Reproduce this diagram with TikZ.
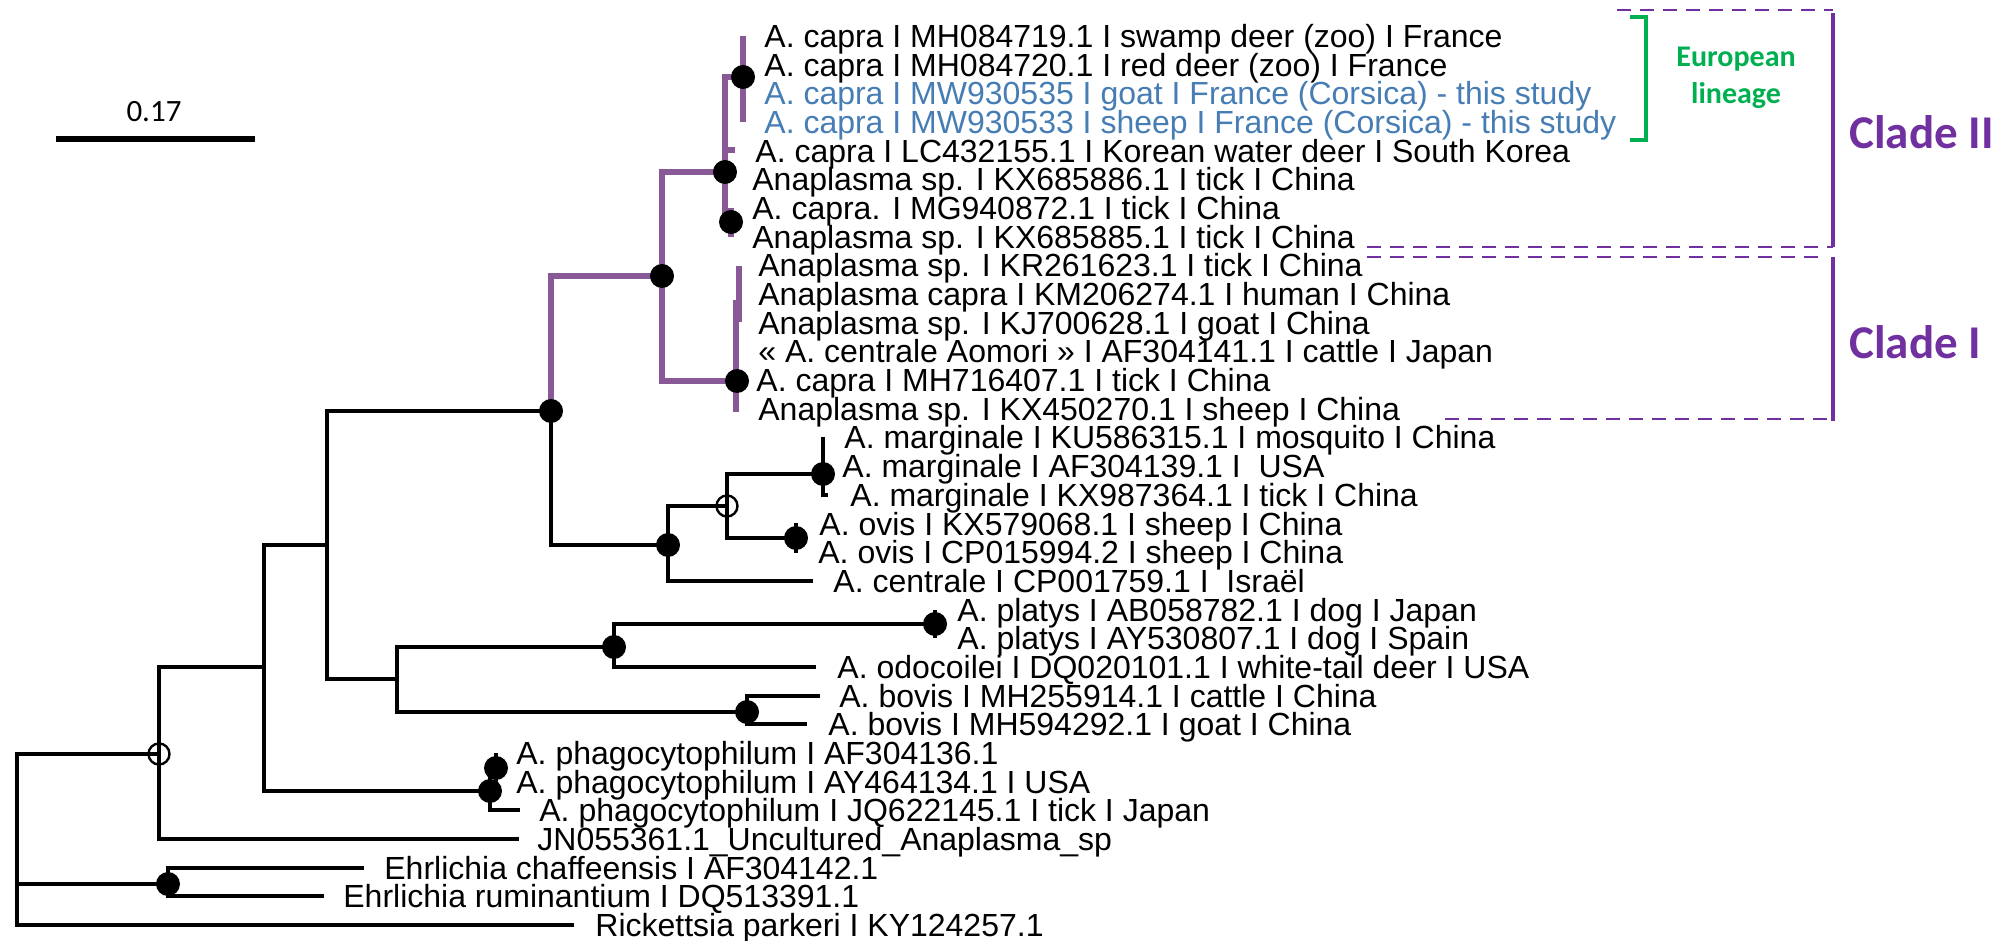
\documentclass[tikz,border=0pt]{standalone}
\usepackage{fontspec}
\setmainfont{Liberation Sans}
\newfontfamily\calib{Carlito}
\definecolor{brpurple}{RGB}{137,88,150}
\definecolor{cladepurple}{RGB}{112,48,160}
\definecolor{eurogreen}{RGB}{0,176,80}
\definecolor{studyblue}{RGB}{70,125,180}
\begin{document}
\begin{tikzpicture}[x=0.5pt,y=-0.5pt,
  br/.style={draw=black, line width=1.7pt},
  pbr/.style={draw=brpurple, line width=2.6pt},
  dot/.style={circle, fill=black, inner sep=0pt, minimum size=12pt},
  odot/.style={circle, draw=black, line width=1.2pt, inner sep=0pt, minimum size=10.5pt},
  lab/.style={anchor=base west, inner sep=0pt, yshift=-5.75pt, font=\fontsize{16}{16}\selectfont},
  blab/.style={lab, text=studyblue},
  cladebar/.style={draw=cladepurple, line width=2.25pt},
  cladedash/.style={draw=cladepurple, line width=1.4pt, dash pattern=on 7pt off 4.5pt},
  cladetxt/.style={anchor=west, inner sep=0pt, text=cladepurple, font=\calib\bfseries\fontsize{23.5}{24}\selectfont},
]
\useasboundingbox (0,0) rectangle (2010,941);

% ---------- internal nodes ----------
\coordinate (root) at (17,840);
\coordinate (nA) at (159,754);
\coordinate (nEh) at (168,884);
\coordinate (nB) at (264,667);
\coordinate (nC) at (327,545);
\coordinate (nP1) at (490,791);
\coordinate (nP2) at (496,768);
\coordinate (nD) at (551,411);
\coordinate (nE) at (397,679);
\coordinate (nM) at (614,647);
\coordinate (nQ) at (935,624);
\coordinate (nR) at (747,712);
\coordinate (nF) at (662,276);
\coordinate (nG) at (668,545);
\coordinate (nH) at (727,506);
\coordinate (nS) at (823,474);
\coordinate (nT) at (796,538);
\coordinate (nK) at (725,172);
\coordinate (nJ) at (743,77);
\coordinate (nL) at (731,222);
\coordinate (nI) at (737,381);

% ---------- branch tips ----------
\coordinate (tRk) at (574,925);
\coordinate (tEc) at (364,868);
\coordinate (tEr) at (324,896);
\coordinate (tJN) at (519,839);
\coordinate (tJQ) at (520,810);
\coordinate (tP1) at (496,753);
\coordinate (tP2) at (496,782);
\coordinate (tOd) at (816,667);
\coordinate (tQ1) at (935,610);
\coordinate (tQ2) at (935,638);
\coordinate (tB1) at (820,696);
\coordinate (tB2) at (807,724);
\coordinate (tCe) at (813,581);
\coordinate (tS1) at (823,437);
\coordinate (tS2) at (823,495);
\coordinate (tS3) at (828,495);
\coordinate (tT1) at (796,523);
\coordinate (tT2) at (796,553);
\coordinate (tLC) at (735,150);
\coordinate (tJ1) at (743,36);
\coordinate (tJ2) at (743,122);
\coordinate (tL1) at (731,208);
\coordinate (tL2) at (731,237);
\coordinate (tI1) at (739,266);
\coordinate (tI2) at (739,322);
\coordinate (tI3) at (736,300);
\coordinate (tI4) at (736,412);

% ---------- black branches ----------
\draw[br] (root) |- (nA);
\draw[br] (root) |- (nEh);
\draw[br] (root) |- (tRk);
\draw[br] (nEh) |- (tEc);
\draw[br] (nEh) |- (tEr);
\draw[br] (nA) |- (nB);
\draw[br] (nA) |- (tJN);
\draw[br] (nB) |- (nC);
\draw[br] (nB) |- (nP1);
\draw[br] (nP1) |- (nP2);
\draw[br] (nP1) |- (tJQ);
\draw[br] (tP1) -- (tP2);
\draw[br] (nC) |- (nD);
\draw[br] (nC) |- (nE);
\draw[br] (nE) |- (nM);
\draw[br] (nE) |- (nR);
\draw[br] (nM) |- (nQ);
\draw[br] (nM) |- (tOd);
\draw[br] (tQ1) -- (tQ2);
\draw[br] (nR) |- (tB1);
\draw[br] (nR) |- (tB2);
\draw[br] (nD) |- (nG);
\draw[br] (nG) |- (nH);
\draw[br] (nG) |- (tCe);
\draw[br] (nH) |- (nS);
\draw[br] (nH) |- (nT);
\draw[br] (tS1) -- (tS2) -- (tS3);
\draw[br] (tT1) -- (tT2);

% ---------- A. capra clade (purple) ----------
\draw[pbr] (nD) |- (nF);
\draw[pbr] (nF) |- (nK);
\draw[pbr] (nF) |- (nI);
\draw[pbr] (nK) |- (nJ);
\draw[pbr] (nK) |- (tLC);
\draw[pbr] (nK) |- (nL);
\draw[pbr] (tJ1) -- (tJ2);
\draw[pbr] (tL1) -- (tL2);
\draw[pbr] (tI1) -- (tI2);
\draw[pbr] (tI3) -- (tI4);

% ---------- support markers ----------
\foreach \n in {nEh,nP1,nP2,nD,nM,nQ,nR,nF,nG,nS,nT,nK,nJ,nL,nI}
  \node[dot] (d\n) at (\n) {};
\node[odot] (oA) at (nA) {};
\node[odot] (oH) at (nH) {};

% ---------- taxon labels ----------
\node[lab]  (L1)  at (764,36)    {A. capra I MH084719.1 I swamp deer (zoo) I France};
\node[lab]  (L2)  at (764,64.7)  {A. capra I MH084720.1 I red deer (zoo) I France};
\node[blab] (L3)  at (764,93.4)  {A. capra I MW930535 I goat I France (Corsica) - this study};
\node[blab] (L4)  at (764,122)   {A. capra I MW930533 I sheep I France (Corsica) - this study};
\node[lab]  (L5)  at (755,150.7) {A. capra I LC432155.1 I Korean water deer I South Korea};
\node[lab]  (L6)  at (752,179.4) {Anaplasma sp. I KX685886.1 I tick I China};
\node[lab]  (L7)  at (752,208.1) {A. capra. I MG940872.1 I tick I China};
\node[lab]  (L8)  at (752,236.8) {Anaplasma sp. I KX685885.1 I tick I China};
\node[lab]  (L9)  at (758,265.4) {Anaplasma sp. I KR261623.1 I tick I China};
\node[lab]  (L10) at (758,294.1) {Anaplasma capra I KM206274.1 I human I China};
\node[lab]  (L11) at (758,322.8) {Anaplasma sp. I KJ700628.1 I goat I China};
\node[lab]  (L12) at (758,351.5) {« A. centrale Aomori » I AF304141.1 I cattle I Japan};
\node[lab]  (L13) at (756,380.2) {A. capra I MH716407.1 I tick I China};
\node[lab]  (L14) at (758,408.8) {Anaplasma sp. I KX450270.1 I sheep I China};
\node[lab]  (L15) at (844,437.5) {A. marginale I KU586315.1 I mosquito I China};
\node[lab]  (L16) at (842,466.2) {A. marginale I AF304139.1 I \ USA};
\node[lab]  (L17) at (850,494.9) {A. marginale I KX987364.1 I tick I China};
\node[lab]  (L18) at (819,523.6) {A. ovis I KX579068.1 I sheep I China};
\node[lab]  (L19) at (818,552.2) {A. ovis I CP015994.2 I sheep I China};
\node[lab]  (L20) at (833,580.9) {A. centrale I CP001759.1 I \ Israël};
\node[lab]  (L21) at (957,609.6) {A. platys I AB058782.1 I dog I Japan};
\node[lab]  (L22) at (957,638.3) {A. platys I AY530807.1 I dog I Spain};
\node[lab]  (L23) at (837,667)   {A. odocoilei I DQ020101.1 I white-tail deer I USA};
\node[lab]  (L24) at (839,695.6) {A. bovis I MH255914.1 I cattle I China};
\node[lab]  (L25) at (828,724.3) {A. bovis I MH594292.1 I goat I China};
\node[lab]  (L26) at (516,753)   {A. phagocytophilum I AF304136.1};
\node[lab]  (L27) at (516,781.7) {A. phagocytophilum I AY464134.1 I USA};
\node[lab]  (L28) at (539,810.4) {A. phagocytophilum I JQ622145.1 I tick I Japan};
\node[lab]  (L29) at (537,839)   {JN055361.1\_Uncultured\_Anaplasma\_sp};
\node[lab]  (L30) at (384,867.7) {Ehrlichia chaffeensis I AF304142.1};
\node[lab]  (L31) at (343,896.4) {Ehrlichia ruminantium I DQ513391.1};
\node[lab]  (L32) at (595,925)   {Rickettsia parkeri I KY124257.1};

% ---------- scale bar ----------
\coordinate (sbL) at (56,139);
\coordinate (sbR) at (255,139);
\draw[line width=3pt] (sbL) -- (sbR);
\node[inner sep=0pt, font=\calib\fontsize{15.5}{16}\selectfont] (sbT) at (154,112) {0.17};

% ---------- European lineage bracket ----------
\coordinate (gb1) at (1630,17);
\coordinate (gb2) at (1646,17);
\coordinate (gb3) at (1646,140);
\coordinate (gb4) at (1630,140);
\draw[eurogreen, line width=2pt] (gb1) -- (gb2) -- (gb3) -- (gb4);
\node[align=center, inner sep=0pt, text=eurogreen,
      font=\calib\bfseries\fontsize{15}{18.5}\selectfont] (eu) at (1736,78) {European\\lineage};

% ---------- clade brackets ----------
\coordinate (c2t) at (1833,13);
\coordinate (c2b) at (1833,247);
\coordinate (c1t) at (1833,257);
\coordinate (c1b) at (1833,421);
\coordinate (d1a) at (1617,10);
\coordinate (d1b) at (1833,10);
\coordinate (d2a) at (1367,247);
\coordinate (d3a) at (1367,257);
\coordinate (d3b) at (1825,257);
\coordinate (d4a) at (1445,419);
\coordinate (d4b) at (1833,419);
\draw[cladedash] (d1a) -- (d1b);
\draw[cladedash] (d2a) -- (c2b);
\draw[cladedash] (d3a) -- (d3b);
\draw[cladedash] (d4a) -- (d4b);
\draw[cladebar] (c2t) -- (c2b);
\draw[cladebar] (c1t) -- (c1b);
\node[cladetxt] (cII) at (1849,132) {Clade II};
\node[cladetxt] (cI) at (1849,342) {Clade I};
\end{tikzpicture}
\end{document}
